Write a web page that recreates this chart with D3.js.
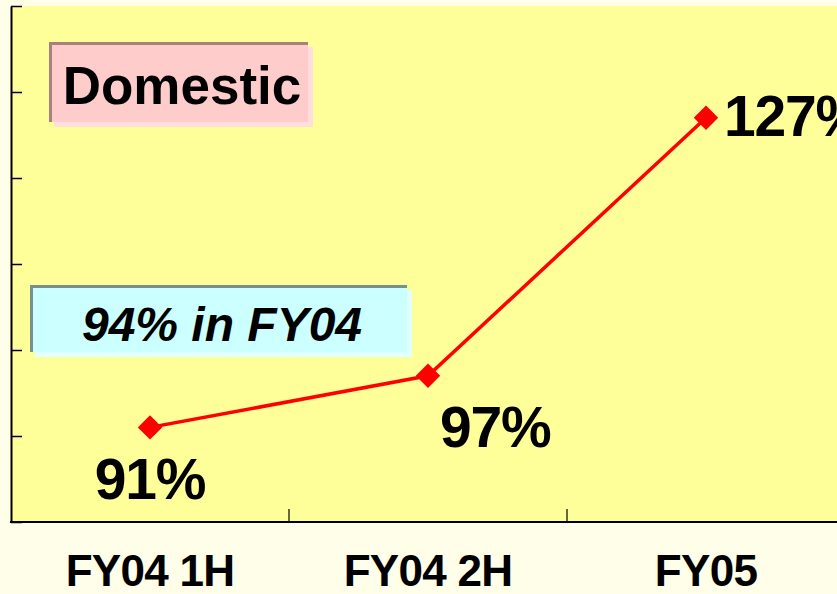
<!DOCTYPE html>
<html>
<head>
<meta charset="utf-8">
<script src="https://cdn.jsdelivr.net/npm/d3@7"></script>
<style>
  html, body { margin: 0; padding: 0; background: #fffee8; }
  svg { display: block; }
  text { font-family: "Liberation Sans", Arial, sans-serif; }
</style>
</head>
<body>
<svg id="chart" width="837" height="594"></svg>
<script>
const categories = ["FY04 1H", "FY04 2H", "FY05"];
const values = [91, 97, 127];
const valueLabels = ["91%", "97%", "127%"];
const yTicks = [80, 90, 100, 110, 120, 130, 140];
const titleText = "Domestic";
const noteText = "94% in FY04";

const W = 837, H = 594;
const svg = d3.select("#chart");
svg.append("rect").attr("width", W).attr("height", H).attr("fill", "#fffee8");

const x = d3.scaleBand().domain(categories).range([11, 845]).padding(0);
const y = d3.scaleLinear().domain([80, 140]).range([522, 6]);

// plot area
svg.append("rect")
  .attr("x", 11).attr("y", y(140))
  .attr("width", 845 - 11).attr("height", y(80) - y(140))
  .attr("fill", "#ffff99");

// Y axis
const yAxis = d3.axisLeft(y).tickValues(yTicks).tickSizeInner(-11).tickSizeOuter(0).tickFormat("");
const gy = svg.append("g").attr("transform", "translate(11,0)").call(yAxis);
gy.select(".domain").attr("stroke", "#000").attr("stroke-width", 2);
gy.selectAll(".tick line").attr("stroke", "#000").attr("stroke-width", 1.5);

// X axis
const gx = svg.append("g");
gx.append("line").attr("x1", 10).attr("x2", 845).attr("y1", y(80)).attr("y2", y(80))
  .attr("stroke", "#000").attr("stroke-width", 2);
const bounds = categories.map(c => x(c)).concat([x.range()[1]]).slice(1);
gx.selectAll("line.xt").data(bounds).join("line").attr("class", "xt")
  .attr("x1", d => d).attr("x2", d => d)
  .attr("y1", y(80)).attr("y2", y(80) - 13)
  .attr("stroke", "#000").attr("stroke-width", 1.2);
gx.selectAll("text.xl").data(categories).join("text").attr("class", "xl")
  .attr("x", d => x(d) + x.bandwidth() / 2)
  .attr("y", 586)
  .attr("text-anchor", "middle")
  .attr("font-size", 44).attr("font-weight", "bold")
  .attr("letter-spacing", -0.7)
  .attr("fill", "#000")
  .text(d => d);

// annotation boxes
function box(bx, by, bw, bh, fill, shadow, edge) {
  const g = svg.append("g");
  g.append("rect").attr("x", bx + 5).attr("y", by + 5).attr("width", bw).attr("height", bh).attr("fill", shadow);
  g.append("rect").attr("x", bx).attr("y", by).attr("width", bw).attr("height", bh).attr("fill", fill);
  g.append("path").attr("d", `M${bx + 1.5},${by + bh} L${bx + 1.5},${by + 1.5} L${bx + bw},${by + 1.5}`)
    .attr("fill", "none").attr("stroke", edge).attr("stroke-width", 3);
  return g;
}
box(49, 42, 259, 80, "#ffcccc", "#ffdede", "#a88080");
svg.append("text").attr("x", 182).attr("y", 104).attr("text-anchor", "middle")
  .attr("font-size", 53).attr("font-weight", "bold").attr("fill", "#000").text(titleText);

box(30, 285, 377, 67, "#ccffff", "#e0ffff", "#789090");
svg.append("text").attr("x", 222).attr("y", 341).attr("text-anchor", "middle")
  .attr("font-size", 48).attr("font-weight", "bold").attr("font-style", "italic")
  .attr("fill", "#000").text(noteText);

// line
const pts = categories.map((c, i) => [x(c) + x.bandwidth() / 2, y(values[i])]);
svg.append("path").attr("d", d3.line()(pts)).attr("fill", "none")
  .attr("stroke", "#ff0000").attr("stroke-width", 3.5);
svg.selectAll("path.mk").data(pts).join("path").attr("class", "mk")
  .attr("d", d3.symbol().type(d3.symbolDiamond2).size(380))
  .attr("transform", d => `translate(${d[0]},${d[1]})`)
  .attr("fill", "#ff0000");

// value labels
const labelPlace = [
  { dx: 0, dy: 72, anchor: "middle" },
  { dx: 12, dy: 71, anchor: "start" },
  { dx: 18, dy: 18, anchor: "start" }
];
svg.selectAll("text.vl").data(pts).join("text").attr("class", "vl")
  .attr("x", (d, i) => d[0] + labelPlace[i].dx)
  .attr("y", (d, i) => d[1] + labelPlace[i].dy)
  .attr("text-anchor", (d, i) => labelPlace[i].anchor)
  .attr("font-size", 57).attr("font-weight", "bold").attr("letter-spacing", -1.2)
  .attr("fill", "#000")
  .text((d, i) => valueLabels[i]);
</script>
</body>
</html>
